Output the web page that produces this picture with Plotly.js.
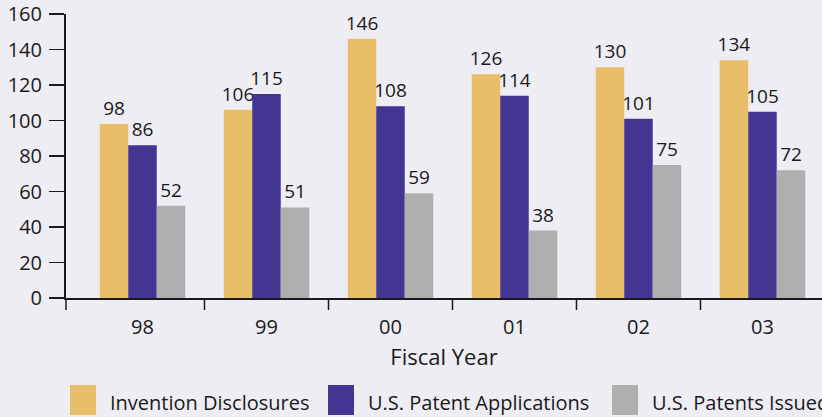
<!DOCTYPE html>
<html>
<head>
<meta charset="utf-8">
<script src="https://cdn.plot.ly/plotly-3.0.1.min.js"></script>
<style>html,body{margin:0;padding:0;background:#EEEDF3;}#chart{width:822px;height:417px;}</style>
</head>
<body>
<div id="chart"></div>
<script>
const years = ["98", "99", "00", "01", "02", "03"];
const seriesNames = ["Invention Disclosures", "U.S. Patent Applications", "U.S. Patents Issued"];
const disclosures = [98, 106, 146, 126, 130, 134];
const applications = [86, 115, 108, 114, 101, 105];
const issued = [52, 51, 59, 38, 75, 72];
const colors = ["#E9BE6A", "#433592", "#AFAFAF"];
const yTicks = [0, 20, 40, 60, 80, 100, 120, 140, 160];

const FONT = "Open Sans, Noto Sans, sans-serif";
const BG = "#EEEDF3";
const INK = "#1a1a1a";

const values = [disclosures, applications, issued];
const traces = values.map((v, i) => ({
  type: "bar",
  name: seriesNames[i],
  x: years,
  y: v,
  marker: {color: colors[i], line: {width: 0}},
  text: v.map(String),
  textposition: "outside",
  constraintext: "none",
  cliponaxis: false,
  textfont: {family: FONT, size: 19, color: INK},
  showlegend: false,
  hoverinfo: "x+y+name"
}));

const plotL = 66, plotW = 756, plotB = 298, plotH = 284;
const px = x => (x - plotL) / plotW;
const py = y => (plotB - y) / plotH;
const shapes = [];
const annotations = [];

// boundary tick marks between fiscal-year groups, plus one under the y axis
const tickDrop = 12 / plotH;
shapes.push({type: "line", xref: "paper", yref: "paper", x0: 0, x1: 0, y0: 0, y1: -tickDrop,
  line: {color: INK, width: 1.5}});
years.slice(0, -1).forEach((_, i) => {
  shapes.push({type: "line", xref: "x", yref: "paper", x0: i + 0.5, x1: i + 0.5, y0: 0, y1: -tickDrop,
    line: {color: INK, width: 1.5}});
});

// custom legend (large swatches as in the original)
const swatchX = [70, 328, 612];
seriesNames.forEach((n, i) => {
  shapes.push({type: "rect", xref: "paper", yref: "paper",
    x0: px(swatchX[i]), x1: px(swatchX[i] + 26), y0: py(415), y1: py(385),
    fillcolor: colors[i], line: {width: 0}, layer: "above"});
  annotations.push({xref: "paper", yref: "paper", x: px(swatchX[i] + 38), y: py(402),
    xanchor: "left", yanchor: "middle", showarrow: false, text: n,
    font: {family: FONT, size: 20, color: INK}});
});

const layout = {
  width: 822, height: 417,
  margin: {l: plotL, r: 0, t: 14, b: 119},
  paper_bgcolor: BG, plot_bgcolor: BG,
  font: {family: FONT, color: INK},
  barmode: "group", bargap: 0.31, bargroupgap: 0,
  xaxis: {
    type: "category", range: [-0.617, 5.48],
    showline: true, linecolor: INK, linewidth: 2,
    ticks: "outside", ticklen: 10, tickcolor: "rgba(0,0,0,0)",
    tickfont: {family: FONT, size: 20, color: INK},
    showgrid: false, zeroline: false,
    title: {text: "Fiscal Year", font: {family: FONT, size: 22, color: INK}, standoff: 11}
  },
  yaxis: {
    range: [0, 160], tickmode: "array", tickvals: yTicks,
    ticks: "outside", ticklen: 15, tickwidth: 1.5, tickcolor: INK,
    showline: true, linecolor: INK, linewidth: 2,
    showgrid: false, zeroline: false,
    tickfont: {family: FONT, size: 20, color: INK},
    ticklabelstandoff: 3
  },
  shapes: shapes,
  annotations: annotations
};

Plotly.newPlot("chart", traces, layout, {displayModeBar: false, staticPlot: true});
</script>
</body>
</html>
